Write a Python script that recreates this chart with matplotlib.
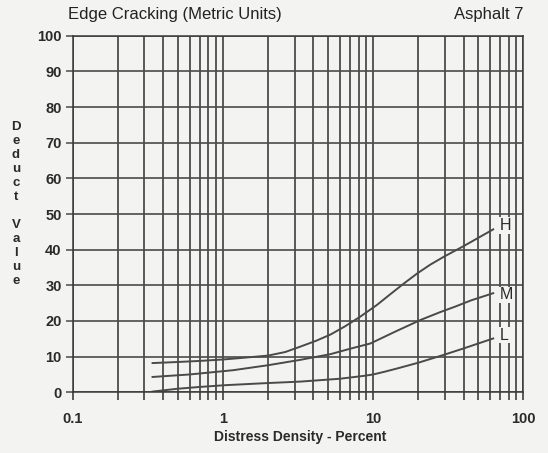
import numpy as np
import matplotlib.pyplot as plt
from matplotlib.ticker import FixedLocator, NullFormatter

plt.rcParams['font.family'] = ['Liberation Sans', 'DejaVu Sans']

# 读图得到的曲线点 (密度 %, 扣分值)
density_h = [0.34, 0.5, 0.7, 1.0, 1.3, 2.0, 2.6, 3.27, 4.2, 5.2, 6.5, 8.2,
             10.6, 13, 16, 19.6, 24, 29.5, 40, 50, 63]
deduct_h = [8.2, 8.5, 8.8, 9.2, 9.6, 10.3, 11.3, 12.8, 14.5, 16.2, 18.5, 21.2,
            24.5, 27.5, 30.5, 33.3, 35.8, 38.0, 41.0, 43.3, 45.7]

density_m = [0.34, 0.6, 1.17, 2.0, 3.27, 5.2, 7, 9.6, 14, 20.7, 28, 35, 45, 63]
deduct_m = [4.3, 5.0, 6.2, 7.6, 9.1, 10.7, 12.2, 13.7, 17.0, 20.3, 22.5, 24.0,
            25.8, 27.8]

density_l = [0.34, 0.5, 0.7, 1.04, 2.0, 3.27, 6.0, 8.65, 10, 12, 14.5, 20,
             29.5, 40, 63]
deduct_l = [0.2, 1.0, 1.5, 2.0, 2.6, 3.0, 3.8, 4.6, 5.0, 5.8, 6.7, 8.3,
            10.5, 12.3, 15.1]

curve_labels = ['H', 'M', 'L']
label_y = [46.8, 27.3, 16.0]

x_major = [0.1, 1, 10, 100]
x_major_labels = ['0.1', '1', '10', '100']
y_ticks = list(range(0, 101, 10))

fig = plt.figure(figsize=(5.48, 4.53), dpi=100)
bg = '#f3f3f1'
fig.patch.set_facecolor(bg)
ax = fig.add_axes([0.1327, 0.134, 0.8223, 0.787])
ax.set_facecolor(bg)

ax.set_xscale('log')
ax.set_xlim(0.1, 100)
ax.set_ylim(0, 100)

minor = [m * d for d in (0.1, 1, 10) for m in range(2, 10)]
ax.xaxis.set_major_locator(FixedLocator(x_major))
ax.xaxis.set_minor_locator(FixedLocator(minor))
ax.xaxis.set_minor_formatter(NullFormatter())
ax.set_xticks(x_major, x_major_labels)
ax.set_yticks(y_ticks)

# 网格
ax.grid(True, which='both', axis='x', color='#2e2e2e', linewidth=1.1)
ax.grid(True, which='major', axis='y', color='#4a4a4a', linewidth=1.2)
ax.set_axisbelow(True)

ax.tick_params(axis='x', which='both', direction='out', length=6, width=1.1,
               color='#2e2e2e', labelsize=10.5, pad=8)
ax.tick_params(axis='y', which='major', direction='out', length=5, width=1.1,
               color='#4a4a4a', labelsize=10.5, pad=3)
for lab in ax.get_xticklabels() + ax.get_yticklabels():
    lab.set_fontweight('bold')
    lab.set_color('#2a2a2a')

for s in ax.spines.values():
    s.set_color('#3a3a3a')
    s.set_linewidth(1.1)

line_color = '#4a4a4a'
for dx, dy in [(density_h, deduct_h), (density_m, deduct_m), (density_l, deduct_l)]:
    ax.plot(dx, dy, color=line_color, linewidth=1.4)

for name, yv in zip(curve_labels, label_y):
    ax.text(70, yv, name, fontsize=11.5, color='#2a2a2a', va='center', ha='left',
            bbox=dict(facecolor=bg, edgecolor='none', pad=0.5))

fig.text(68 / 548, 1 - 15 / 453, 'Edge Cracking (Metric Units)', fontsize=12,
         color='#222222', va='center', ha='left')
fig.text(523 / 548, 1 - 15 / 453, 'Asphalt 7', fontsize=12,
         color='#222222', va='center', ha='right')

fig.text(300 / 548, 1 - 437 / 453, 'Distress Density - Percent', fontsize=10,
         fontweight='bold', color='#2a2a2a', va='center', ha='center')

ylabel = 'Deduct Value'
ycur = 127
for ch in ylabel:
    if ch != ' ':
        fig.text(16 / 548, 1 - ycur / 453, ch, fontsize=9.5, fontweight='bold',
                 color='#2a2a2a', va='center', ha='center')
    ycur += 14

fig.savefig('out.png', dpi=100, facecolor=fig.get_facecolor())
